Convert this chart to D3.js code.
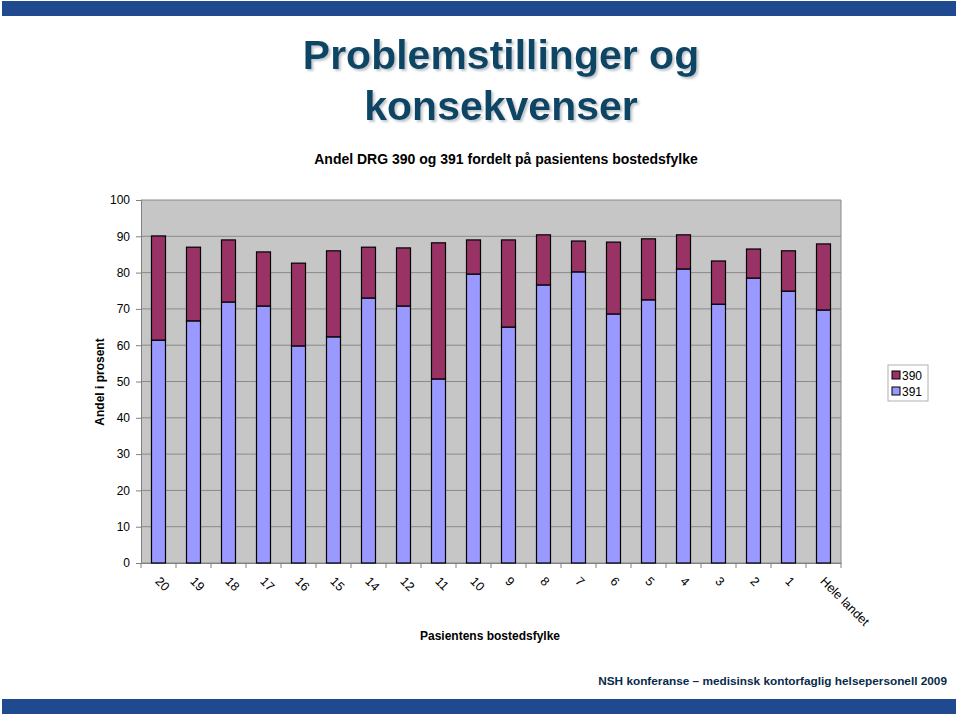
<!DOCTYPE html>
<html><head><meta charset="utf-8">
<script src="https://cdn.jsdelivr.net/npm/d3@7"></script>
<style>body{margin:0;background:#fff}svg{display:block}</style>
</head><body>
<svg id="c" width="960" height="716"></svg>
<script>
const categories = ["20","19","18","17","16","15","14","12","11","10","9","8","7","6","5","4","3","2","1","Hele landet"];
const s391 = [61.4,66.7,71.9,70.8,59.8,62.3,73.0,70.8,50.7,79.6,65.0,76.6,80.2,68.6,72.5,81.0,71.3,78.5,74.9,69.7];
const total = [90.1,87.0,89.0,85.7,82.6,86.0,87.0,86.8,88.2,89.0,89.0,90.4,88.7,88.4,89.3,90.4,83.2,86.5,86.0,87.9];
const s390 = total.map((t,i)=>+(t - s391[i]).toFixed(1));
const yTicks = [0,10,20,30,40,50,60,70,80,90,100];
const seriesNames = ["390","391"];

const svg = d3.select("#c");
const defs = svg.append("defs");
const f = defs.append("filter").attr("id","sh").attr("x","-5%").attr("y","-20%").attr("width","110%").attr("height","140%");
f.append("feDropShadow").attr("dx",2).attr("dy",2).attr("stdDeviation",0.8).attr("flood-color","#b8c0c8").attr("flood-opacity",0.9);

svg.append("rect").attr("x",2).attr("y",1).attr("width",954).attr("height",15).attr("fill","#1F4A8F");
svg.append("rect").attr("x",2).attr("y",699).attr("width",954).attr("height",15).attr("fill","#1F4A8F");

const titleFont = "'Liberation Sans', Arial, sans-serif";
[["Problemstillinger og",69],["konsekvenser",120]].forEach(([t,y])=>{
  svg.append("text").attr("x",501).attr("y",y).attr("text-anchor","middle").attr("filter","url(#sh)")
    .attr("font-family",titleFont).attr("font-weight","bold").attr("font-size",41).attr("fill","#0B4565").text(t);
});
svg.append("text").attr("x",506).attr("y",164).attr("text-anchor","middle")
  .attr("font-family",titleFont).attr("font-weight","bold").attr("font-size",14).attr("fill","#000")
  .text("Andel DRG 390 og 391 fordelt på pasientens bostedsfylke");

const m = {l:141,r:841,t:200,b:563};
const x = d3.scaleBand().domain(categories).range([m.l,m.r]).paddingInner(0.6).paddingOuter(0.3);
const y = d3.scaleLinear().domain([0,100]).range([m.b,m.t]);

svg.append("rect").attr("x",m.l).attr("y",m.t).attr("width",m.r-m.l).attr("height",m.b-m.t).attr("fill","#C6C6C6");
svg.append("g").selectAll("line").data(yTicks).join("line")
  .attr("x1",m.l).attr("x2",m.r).attr("y1",d=>y(d)).attr("y2",d=>y(d)).attr("stroke","#8a8a8a").attr("stroke-width",1);
svg.append("line").attr("x1",m.r).attr("x2",m.r).attr("y1",m.t).attr("y2",m.b).attr("stroke","#8a8a8a");

const yAxis = d3.axisLeft(y).tickValues(yTicks).tickSize(5).tickPadding(6);
const gy = svg.append("g").attr("transform",`translate(${m.l},0)`).call(yAxis);
gy.select(".domain").attr("stroke","#808080");
gy.selectAll(".tick line").attr("stroke","#808080");
gy.selectAll("text").attr("font-family",titleFont).attr("font-size",12).attr("fill","#000");

const xAxis = d3.axisBottom(x).tickSize(0).tickFormat("");
const gx = svg.append("g").attr("transform",`translate(0,${m.b})`).call(xAxis);
gx.select(".domain").attr("stroke","#808080");
svg.append("g").selectAll("line").data(d3.range(categories.length+1)).join("line")
  .attr("x1",i=>m.l+i*(m.r-m.l)/categories.length).attr("x2",i=>m.l+i*(m.r-m.l)/categories.length)
  .attr("y1",m.b).attr("y2",m.b+5).attr("stroke","#808080");
svg.append("g").selectAll("text").data(categories).join("text")
  .attr("transform",d=>`translate(${x(d)+x.bandwidth()/2-4},${m.b+19}) rotate(45)`)
  .attr("font-family",titleFont).attr("font-size",12.5).attr("fill","#000").text(d=>d);

const stackData = categories.map((c,i)=>({cat:c,"391":s391[i],"390":s390[i]}));
const stack = d3.stack().keys(["391","390"])(stackData);
const colors = {"390":"#993366","391":"#9999FF"};
svg.append("g").selectAll("g").data(stack).join("g").attr("fill",d=>colors[d.key])
  .selectAll("rect").data(d=>d).join("rect")
  .attr("x",d=>x(d.data.cat)).attr("width",x.bandwidth())
  .attr("y",d=>y(d[1])).attr("height",d=>y(d[0])-y(d[1]))
  .attr("stroke","#000").attr("stroke-width",1.2);

svg.append("text").attr("transform","translate(104,382) rotate(-90)").attr("text-anchor","middle")
  .attr("font-family",titleFont).attr("font-weight","bold").attr("font-size",12).text("Andel i prosent");
svg.append("text").attr("x",490).attr("y",640).attr("text-anchor","middle")
  .attr("font-family",titleFont).attr("font-weight","bold").attr("font-size",12).text("Pasientens bostedsfylke");

const lg = svg.append("g").attr("transform","translate(888,365)");
lg.append("rect").attr("width",40).attr("height",36).attr("fill","#fff").attr("stroke","#b0b0b0");
seriesNames.forEach((n,i)=>{
  lg.append("rect").attr("x",4).attr("y",6+i*16).attr("width",8).attr("height",8).attr("fill",colors[n]).attr("stroke","#000");
  lg.append("text").attr("x",14).attr("y",15+i*16).attr("font-family",titleFont).attr("font-size",12).text(n);
});

svg.append("text").attr("x",947).attr("y",685).attr("text-anchor","end")
  .attr("font-family",titleFont).attr("font-weight","bold").attr("font-size",11.8)
  .attr("fill","#0A2A4A").text("NSH konferanse – medisinsk kontorfaglig helsepersonell 2009");
</script>
</body></html>
